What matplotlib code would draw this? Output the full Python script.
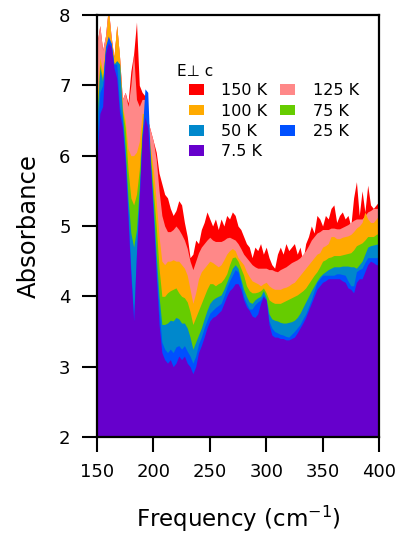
import numpy as np
import matplotlib
matplotlib.use("Agg")
import matplotlib.pyplot as plt
from matplotlib.patches import Patch

plt.rcParams['font.family'] = ['DejaVu Sans']
plt.rcParams['mathtext.default'] = 'regular'

freq = np.arange(150.0, 400.01, 2.5)

# absorbance spectra, one list per temperature
a_7p5K = [5.9, 6.6, 6.7, 7.45, 7.6, 7.55, 7.25, 7.1, 6.6, 6.4,
          5.9, 5.1, 4.3, 3.65, 4.6, 5.4, 6.25, 6.55, 6.4, 5.8,
          5.1, 4.3, 3.6, 3.2, 3.1, 3.05, 3.1, 3.0, 3.05, 3.15,
          3.1, 3.15, 3.05, 3.0, 2.9, 3.0, 3.2, 3.3, 3.42, 3.55,
          3.65, 3.7, 3.72, 3.76, 3.8, 3.9, 4.0, 4.08, 4.12, 4.18,
          4.18, 4.1, 3.95, 3.85, 3.8, 3.72, 3.7, 3.75, 3.9, 4.0,
          3.95, 3.6, 3.45, 3.42, 3.42, 3.4, 3.4, 3.38, 3.38, 3.4,
          3.42, 3.48, 3.55, 3.62, 3.7, 3.8, 3.9, 4.0, 4.1, 4.15,
          4.2, 4.22, 4.25, 4.25, 4.25, 4.25, 4.25, 4.22, 4.2, 4.12,
          4.1, 4.05, 4.2, 4.25, 4.25, 4.35, 4.45, 4.5, 4.48, 4.45,
          4.45]
a_25K = [6.2, 6.9, 7.0, 7.55, 7.7, 7.6, 7.3, 7.3, 6.7, 6.5,
         6.0, 5.2, 4.4, 3.72, 4.65, 5.45, 6.3, 6.95, 6.9, 5.85,
         5.15, 4.4, 3.8, 3.35, 3.25, 3.2, 3.25, 3.2, 3.28, 3.3,
         3.25, 3.3, 3.22, 3.15, 3.05, 3.15, 3.32, 3.42, 3.55, 3.66,
         3.76, 3.8, 3.84, 3.87, 3.9, 4.0, 4.12, 4.22, 4.3, 4.38,
         4.35, 4.2, 4.0, 3.9, 3.82, 3.82, 3.88, 3.92, 3.95, 4.02,
         3.92, 3.65, 3.55, 3.5, 3.48, 3.46, 3.45, 3.43, 3.42, 3.46,
         3.5, 3.55, 3.6, 3.68, 3.75, 3.85, 3.95, 4.08, 4.2, 4.25,
         4.3, 4.3, 4.3, 4.3, 4.3, 4.32, 4.32, 4.31, 4.3, 4.22,
         4.15, 4.15, 4.35, 4.38, 4.4, 4.48, 4.55, 4.55, 4.55, 4.55,
         4.55]
a_50K = [6.5, 7.25, 7.05, 7.5, 7.6, 7.6, 7.3, 7.35, 7.3, 6.6,
         6.1, 5.4, 4.9, 4.7, 4.95, 5.55, 6.3, 6.6, 6.45, 5.9,
         5.3, 4.6, 4.0, 3.6, 3.6, 3.62, 3.66, 3.65, 3.7, 3.68,
         3.62, 3.62, 3.55, 3.42, 3.25, 3.35, 3.45, 3.55, 3.68, 3.8,
         3.9, 3.95, 3.98, 4.0, 4.02, 4.1, 4.2, 4.3, 4.4, 4.45,
         4.4, 4.25, 4.1, 4.0, 3.92, 3.9, 3.95, 3.98, 4.0, 4.08,
         3.98, 3.75, 3.68, 3.66, 3.65, 3.63, 3.62, 3.62, 3.63, 3.64,
         3.66, 3.7, 3.76, 3.84, 3.92, 4.0, 4.08, 4.15, 4.22, 4.28,
         4.32, 4.35, 4.38, 4.4, 4.42, 4.42, 4.42, 4.43, 4.43, 4.43,
         4.42, 4.42, 4.4, 4.45, 4.5, 4.6, 4.7, 4.72, 4.73, 4.74,
         4.75]
a_75K = [6.6, 7.3, 7.1, 7.5, 7.6, 7.6, 7.3, 7.35, 7.3, 6.65,
         6.4, 5.8, 5.4, 5.3, 5.45, 5.8, 6.4, 6.5, 6.4, 6.0,
         5.5, 5.0, 4.4, 4.0, 4.0, 4.05, 4.08, 4.1, 4.12, 4.05,
         4.0, 3.98, 3.92, 3.78, 3.6, 3.7, 3.8, 3.9, 4.0, 4.1,
         4.18, 4.18, 4.15, 4.18, 4.2, 4.25, 4.32, 4.45, 4.55, 4.56,
         4.5, 4.4, 4.3, 4.15, 4.08, 4.05, 4.05, 4.06, 4.08, 4.12,
         4.05, 3.95, 3.92, 3.9, 3.9, 3.9, 3.92, 3.94, 3.96, 3.98,
         4.0, 4.02, 4.05, 4.08, 4.12, 4.18, 4.24, 4.3, 4.35, 4.42,
         4.5, 4.52, 4.55, 4.56, 4.58, 4.58, 4.58, 4.59, 4.6, 4.61,
         4.62, 4.66, 4.72, 4.74, 4.76, 4.8, 4.85, 4.85, 4.85, 4.88,
         4.9]
a_100K = [6.8, 7.4, 7.2, 7.6, 8.1, 7.65, 7.4, 7.85, 7.4, 6.7,
          6.5, 6.1, 6.0, 6.0, 6.05, 6.2, 6.6, 6.6, 6.4, 6.1,
          5.8, 5.35, 4.85, 4.5, 4.45, 4.5, 4.5, 4.52, 4.5, 4.5,
          4.45, 4.4, 4.3, 4.1, 3.9, 4.05, 4.25, 4.35, 4.4, 4.45,
          4.5, 4.48, 4.45, 4.42, 4.45, 4.52, 4.6, 4.65, 4.68, 4.65,
          4.55, 4.5, 4.45, 4.35, 4.28, 4.22, 4.2, 4.18, 4.15, 4.18,
          4.2, 4.15, 4.12, 4.1, 4.1, 4.1, 4.12, 4.13, 4.15, 4.18,
          4.2, 4.25, 4.3, 4.35, 4.4, 4.45, 4.5, 4.55, 4.6, 4.62,
          4.7, 4.72, 4.75, 4.85, 4.85, 4.82, 4.82, 4.84, 4.85, 4.86,
          4.88, 4.92, 4.97, 5.0, 5.05, 5.2, 5.1, 5.05, 5.05, 5.1,
          5.15]
a_125K = [7.6, 7.85, 7.5, 7.7, 8.1, 7.7, 7.35, 7.85, 7.4, 6.8,
          6.9, 6.7, 7.0, 7.45, 6.8, 6.7, 6.8, 6.8, 6.5, 6.35,
          6.2, 5.95, 5.5, 5.15, 5.0, 4.92, 4.92, 4.95, 5.0, 4.95,
          4.88, 4.8, 4.68, 4.5, 4.38, 4.5, 4.62, 4.7, 4.75, 4.8,
          4.84, 4.8, 4.78, 4.78, 4.78, 4.8, 4.83, 4.84, 4.82, 4.8,
          4.75, 4.68, 4.6, 4.55, 4.5, 4.45, 4.42, 4.4, 4.4, 4.4,
          4.4, 4.38, 4.38, 4.36, 4.35, 4.38, 4.4, 4.42, 4.45, 4.48,
          4.5, 4.52, 4.55, 4.6, 4.65, 4.72, 4.8, 4.85, 4.9, 4.92,
          4.95, 4.95, 4.95, 4.97, 4.97, 4.96, 4.96, 4.98, 5.0, 5.02,
          5.05, 5.08, 5.1, 5.1, 5.1, 5.15, 5.2, 5.22, 5.25, 5.25,
          5.25]
a_150K = [7.6, 7.85, 7.5, 7.7, 8.1, 7.7, 7.4, 7.85, 7.4, 6.8,
          6.9, 6.75, 7.2, 7.45, 7.9, 7.0, 6.9, 6.85, 6.5, 6.35,
          6.2, 6.05, 5.75, 5.6, 5.45, 5.4, 5.25, 5.15, 5.22, 5.36,
          5.3, 5.05, 4.85, 4.55, 4.6, 4.8, 4.75, 4.95, 5.05, 5.2,
          5.1, 5.0, 5.1, 4.95, 5.1, 5.0, 5.15, 5.1, 5.2, 5.15,
          5.0, 4.95, 4.85, 4.75, 4.7, 4.55, 4.7, 4.65, 4.75, 4.6,
          4.7, 4.55, 4.45, 4.4, 4.6, 4.7, 4.6, 4.75, 4.65, 4.7,
          4.75, 4.6, 4.7, 4.5, 4.75, 4.85, 5.0, 4.9, 5.15, 5.1,
          5.0, 5.15, 5.1, 5.25, 5.3, 5.05, 5.15, 5.2, 5.1, 5.15,
          5.0, 5.4, 5.63, 5.15, 5.5, 5.2, 5.58, 5.3, 5.25, 5.3,
          5.35]

temps = ['150 K', '125 K', '100 K', '75 K', '50 K', '25 K', '7.5 K']
series = [a_150K, a_125K, a_100K, a_75K, a_50K, a_25K, a_7p5K]
colors = ['#FF0000', '#FF8888', '#FFAA00', '#66CC00', '#0088CC', '#0050FF', '#6600CC']

fig = plt.figure(figsize=(4.03, 5.33), dpi=100)
ax = fig.add_axes([0.2407, 0.1801, 0.6997, 0.7918])

for vals, c in zip(series, colors):
    ax.fill_between(freq, 2.0, vals, color=c, linewidth=0)

ax.set_xlim(150, 400)
ax.set_ylim(2, 8)
ax.set_xticks([150, 200, 250, 300, 350, 400])
ax.set_yticks([2, 3, 4, 5, 6, 7, 8])
ax.tick_params(direction='out', length=11, width=1.5, labelsize=13, pad=8)
for s in ax.spines.values():
    s.set_linewidth(1.6)
ax.set_xlabel('Frequency (cm$^{-1}$)', fontsize=16.5, labelpad=16)
ax.set_ylabel('Absorbance', fontsize=17.5, labelpad=13)

ax.text(0.284, 0.867, 'E\u22a5 c', transform=ax.transAxes, fontsize=11,
        ha='left', va='center')

order = [0, 2, 4, 6, 1, 3, 5]
handles = [Patch(facecolor=colors[i], edgecolor='none') for i in order]
labels = [temps[i] for i in order]
leg = ax.legend(handles, labels, ncol=2, frameon=False,
                loc='upper left', bbox_to_anchor=(0.325, 0.838), fontsize=11.5,
                handlelength=0.95, handleheight=0.65,
                columnspacing=0.8, labelspacing=0.33, handletextpad=1.1,
                borderpad=0, borderaxespad=0)

fig.savefig('out.png', dpi=100)
